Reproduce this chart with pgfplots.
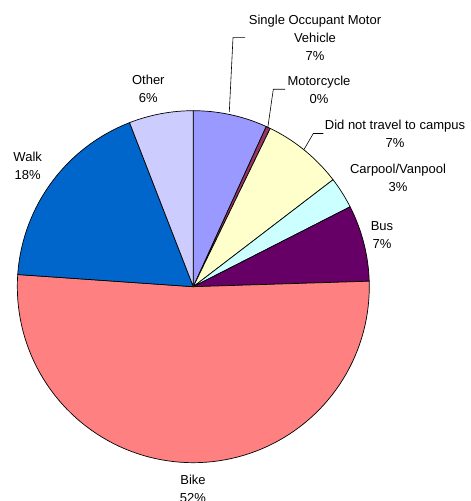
\documentclass[border=0pt]{standalone}
\usepackage{pgfplots}
\usepackage{pgfplotstable}
\pgfplotsset{compat=1.18}
\usepackage{fontspec}
\setmainfont{Liberation Sans}

\definecolor{slice0}{HTML}{9999FF}
\definecolor{slice1}{HTML}{993366}
\definecolor{slice2}{HTML}{FFFFCC}
\definecolor{slice3}{HTML}{CCFFFF}
\definecolor{slice4}{HTML}{660066}
\definecolor{slice5}{HTML}{FF8080}
\definecolor{slice6}{HTML}{0066CC}
\definecolor{slice7}{HTML}{CCCCFF}

% share of each mode, in percent, clockwise from 12 o'clock
\pgfplotstableread{
mode pct
SOV 6.8
Motorcycle 0.4
NoTravel 7.4
Carpool 2.9
Bus 7.0
Bike 51.6
Walk 18.0
Other 5.9
}\piedata

\begin{document}
\begin{tikzpicture}
\begin{axis}[
  hide axis, scale only axis,
  width=352pt, height=352pt,
  xmin=-1, xmax=1, ymin=-1, ymax=1,
  at={(193.3pt,214.3pt)}, anchor=center,
  clip=false,
]
\pgfplotstablegetrowsof{\piedata}
\pgfmathtruncatemacro\N{\pgfplotsretval-1}
\gdef\cum{0}
\pgfplotsforeachungrouped \i in {0,...,\N}{%
  \pgfplotstablegetelem{\i}{pct}\of\piedata
  \pgfmathsetmacro\a{90-3.6*\cum}%
  \pgfmathsetmacro\newcum{\cum+\pgfplotsretval}%
  \pgfmathsetmacro\b{90-3.6*\newcum}%
  \global\let\cum\newcum
  \edef\temp{\noexpand\addplot[draw=black, line width=0.7pt, line join=round, fill=slice\i, domain=\b:\a, samples=90] ({cos(x)},{sin(x)}) -- (axis cs:0,0) -- cycle;}%
  \temp
}
\end{axis}

\begin{scope}[shift={(0pt,501pt)}, x=1pt, y=-1pt,
  every node/.style={align=center, inner sep=0pt, font=\fontsize{13}{17.8}\selectfont}]
  \draw[line width=0.6pt] (245,37.7) -- (233,37.7) -- (229.3,112);
  \draw[line width=0.6pt] (285,89.3) -- (273.3,89.3) -- (267.7,128.3);
  \draw[line width=0.6pt] (323.3,133.5) -- (313.3,133.5) -- (304,149.5);
  \node at (315,38) {Single Occupant Motor\\Vehicle\\7\%};
  \node at (319,90) {Motorcycle\\0\%};
  \node at (148.3,89) {Other\\6\%};
  \node at (395,133.5) {Did not travel to campus\\7\%};
  \node at (398,177.5) {Carpool/Vanpool\\3\%};
  \node at (382,234.7) {Bus\\7\%};
  \node at (27.7,165.5) {Walk\\18\%};
  \node at (193,488.5) {Bike\\52\%};
\end{scope}
\pgfresetboundingbox
\path (0,0) rectangle (471pt,501pt);
\end{tikzpicture}
\end{document}
